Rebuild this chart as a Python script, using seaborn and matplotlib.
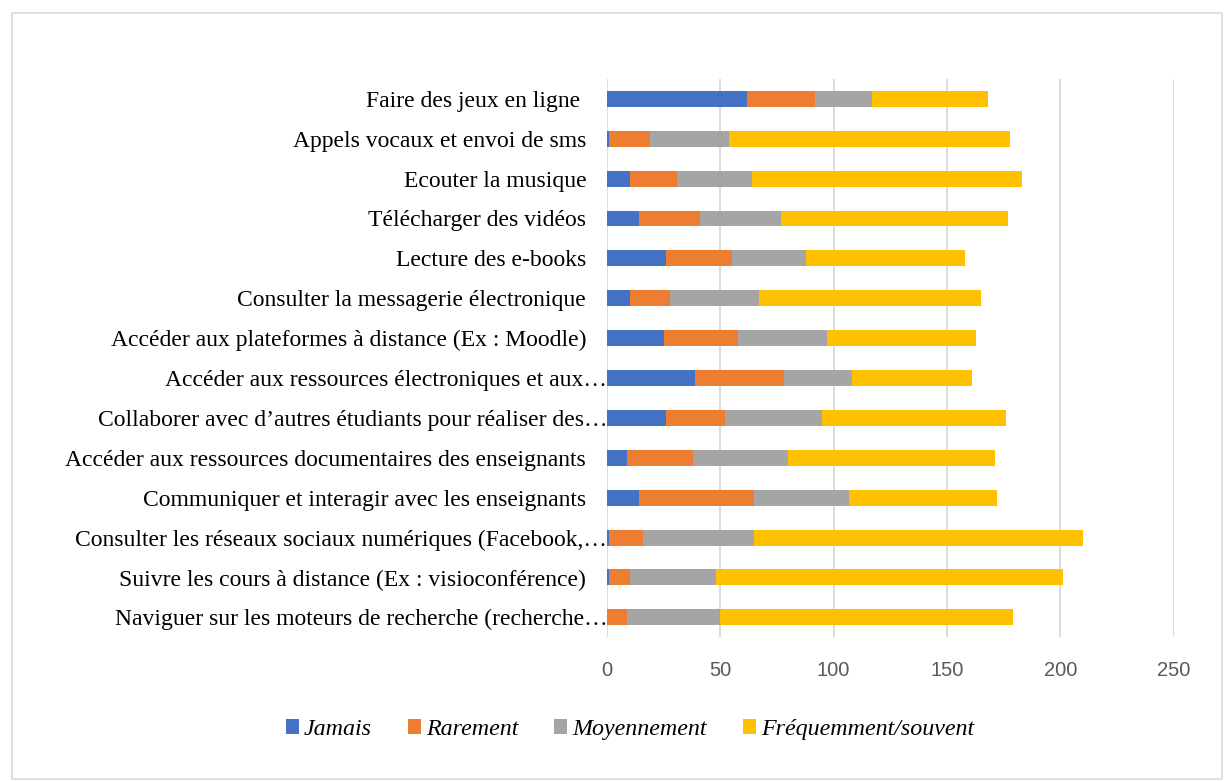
import pandas as pd
import seaborn as sns
import matplotlib.pyplot as plt
import matplotlib.transforms as mtransforms
from matplotlib.patches import Patch, Rectangle

activites = [
    "Faire des jeux en ligne ",
    "Appels vocaux et envoi de sms",
    "Ecouter la musique",
    "Télécharger des vidéos",
    "Lecture des e-books",
    "Consulter la messagerie électronique",
    "Accéder aux plateformes à distance (Ex : Moodle)",
    "Accéder aux ressources électroniques et aux…",
    "Collaborer avec d’autres étudiants pour réaliser des…",
    "Accéder aux ressources documentaires des enseignants",
    "Communiquer et interagir avec les enseignants",
    "Consulter les réseaux sociaux numériques (Facebook,…",
    "Suivre les cours à distance (Ex : visioconférence)",
    "Naviguer sur les moteurs de recherche (recherche…",
]
jamais = [62, 1, 10, 14, 26, 10, 25, 39, 26, 9, 14, 1, 1, 0]
rarement = [30, 18, 21, 27, 29, 18, 33, 39, 26, 29, 51, 15, 9, 9]
moyennement = [25, 35, 33, 36, 33, 39, 39, 30, 43, 42, 42, 49, 38, 41]
frequemment = [51, 124, 119, 100, 70, 98, 66, 53, 81, 91, 65, 145, 153, 129]

series = ["Jamais", "Rarement", "Moyennement", "Fréquemment/souvent"]
couleurs = ["#4472c4", "#ed7d31", "#a5a5a5", "#ffc000"]

df = pd.DataFrame({"activite": activites, "Jamais": jamais, "Rarement": rarement,
                   "Moyennement": moyennement, "Fréquemment/souvent": frequemment})
# cumul pour empiler les barres
cum = df[series].cumsum(axis=1)

fig = plt.figure(figsize=(12.25, 7.81), dpi=100)
ax = fig.add_axes([0.4955, 0.184, 0.4625, 0.715])

# on dessine du plus long au plus court
for s, c in reversed(list(zip(series, couleurs))):
    sns.barplot(x=cum[s], y=df["activite"], orient="h", color=c, width=0.4,
                saturation=1, ax=ax, zorder=3)

ax.set_xlim(0, 250)
ax.set_xticks([0, 50, 100, 150, 200, 250])
ax.set_xlabel("")
ax.set_ylabel("")
ax.grid(axis="x", color="#d9d9d9", linewidth=1.3, zorder=0)
ax.set_axisbelow(True)
for sp in ax.spines.values():
    sp.set_visible(False)
ax.tick_params(axis="both", length=0)
ax.tick_params(axis="x", pad=17, labelsize=14.5, labelcolor="#595959")
ax.tick_params(axis="y", pad=15)
for lab in ax.get_xticklabels():
    lab.set_family("Liberation Sans")
# les libelles tronques vont jusqu'a l'axe, comme dans Excel
decal = mtransforms.ScaledTranslation(21 / 100, 0, fig.dpi_scale_trans)
for lab in ax.get_yticklabels():
    lab.set_family("Liberation Serif")
    lab.set_fontsize(17)
    lab.set_color("black")
    if lab.get_text().endswith("…"):
        lab.set_transform(lab.get_transform() + decal)

handles = [Patch(facecolor=c, edgecolor="none", label=s) for s, c in zip(series, couleurs)]
fig.legend(handles=handles, loc="center", bbox_to_anchor=(0.514, 0.066), ncol=4,
           frameon=False, handlelength=0.55, handleheight=0.55, handletextpad=0.2,
           columnspacing=1.5, prop={"family": "Liberation Serif", "style": "italic", "size": 17.3})

fig.patches.append(Rectangle((12 / 1225, 2 / 781), 1210 / 1225, 766 / 781,
                             transform=fig.transFigure, fill=False,
                             edgecolor="#d9d9d9", linewidth=1.2))

fig.savefig("out.png", dpi=100)
